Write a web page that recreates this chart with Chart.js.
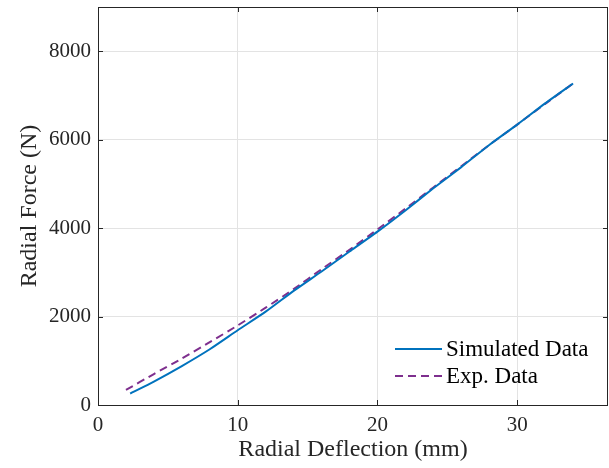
<!DOCTYPE html>
<html>
<head>
<meta charset="utf-8">
<script src="https://cdn.jsdelivr.net/npm/chart.js@4.4.1/dist/chart.umd.min.js"></script>
<style>
  html, body { margin: 0; padding: 0; background: #fff; }
  #wrap { width: 609px; height: 468px; }
</style>
</head>
<body>
<div id="wrap"><canvas id="forceChart" width="609" height="468"></canvas></div>
<script>
// deflection (mm) / force (N)
const simX = [2.3, 4, 6, 8, 10, 12, 14, 16, 18, 20, 22, 24, 26, 28, 30, 32, 34];
const simY = [260, 530, 880, 1260, 1690, 2110, 2580, 3020, 3470, 3920, 4400, 4900, 5380, 5880, 6340, 6820, 7270];
const expX = [2, 4, 6, 8, 10, 12, 14, 16, 18, 20, 22, 24, 26, 28, 30, 32, 34];
const expY = [340, 700, 1050, 1420, 1800, 2200, 2620, 3070, 3510, 3970, 4440, 4920, 5400, 5880, 6340, 6810, 7270];
const xTicks = [0, 10, 20, 30];
const yTicks = [0, 2000, 4000, 6000, 8000];

const serif = "'Liberation Serif', 'DejaVu Serif', serif";

// inward tick marks + box, matlab style
const boxTicks = {
    id: 'boxTicks',
    afterDraw(chart) {
        const { ctx, chartArea: a, scales } = chart;
        ctx.save();
        ctx.strokeStyle = '#262626';
        ctx.lineWidth = 1;
        xTicks.forEach(v => {
            const px = Math.round(scales.x.getPixelForValue(v)) + 0.5;
            ctx.beginPath();
            ctx.moveTo(px, a.bottom); ctx.lineTo(px, a.bottom - 5);
            ctx.moveTo(px, a.top); ctx.lineTo(px, a.top + 5);
            ctx.stroke();
        });
        yTicks.forEach(v => {
            const py = Math.round(scales.y.getPixelForValue(v)) + 0.5;
            ctx.beginPath();
            ctx.moveTo(a.left, py); ctx.lineTo(a.left + 5, py);
            ctx.moveTo(a.right, py); ctx.lineTo(a.right - 5, py);
            ctx.stroke();
        });
        ctx.strokeRect(a.left + 0.5, a.top + 0.5, a.right - a.left - 1, a.bottom - a.top);
        ctx.restore();
    }
};

// legend inside lower right, no frame
const innerLegend = {
    id: 'innerLegend',
    afterDraw(chart) {
        const { ctx } = chart;
        ctx.save();
        ctx.font = '23px ' + serif;
        ctx.textBaseline = 'middle';
        chart.data.datasets.forEach((ds, i) => {
            const y = 349 + i * 27;
            ctx.strokeStyle = ds.borderColor;
            ctx.lineWidth = 2;
            ctx.setLineDash(ds.borderDash || []);
            ctx.beginPath();
            ctx.moveTo(395, y); ctx.lineTo(442, y);
            ctx.stroke();
            ctx.setLineDash([]);
            ctx.fillStyle = '#000';
            ctx.fillText(ds.label, 446, y + 1);
        });
        ctx.restore();
    }
};

new Chart(document.getElementById('forceChart'), {
    type: 'line',
    data: {
        datasets: [
            {
                label: 'Simulated Data',
                data: simX.map((x, i) => ({ x: x, y: simY[i] })),
                borderColor: '#0072BD',
                borderWidth: 2,
                pointRadius: 0,
                tension: 0.2
            },
            {
                label: 'Exp. Data',
                data: expX.map((x, i) => ({ x: x, y: expY[i] })),
                borderColor: '#7E2F8E',
                borderWidth: 2,
                borderDash: [8, 5],
                pointRadius: 0,
                tension: 0.2
            }
        ]
    },
    options: {
        responsive: false,
        animation: false,
        layout: { padding: { top: 7, right: 1, left: 0, bottom: 0 } },
        plugins: { legend: { display: false }, tooltip: { enabled: false } },
        scales: {
            x: {
                type: 'linear',
                min: 0, max: 36.5,
                afterBuildTicks: s => { s.ticks = xTicks.map(v => ({ value: v })); },
                afterFit: s => { s.height = 63; s.paddingRight = 0; },
                grid: { color: '#e3e3e3', drawTicks: false },
                border: { display: false },
                ticks: { color: '#262626', font: { family: serif, size: 21 }, padding: 8,
                         callback: v => String(v) },
                title: { display: true, text: 'Radial Deflection (mm)', color: '#262626',
                         font: { family: serif, size: 24 }, padding: { top: 3 } }
            },
            y: {
                type: 'linear',
                min: 0, max: 9000,
                afterBuildTicks: s => { s.ticks = yTicks.map(v => ({ value: v })); },
                afterFit: s => { s.width = 98; s.paddingTop = 0; s.paddingBottom = 0; },
                grid: { color: '#e3e3e3', drawTicks: false },
                border: { display: false },
                ticks: { color: '#262626', font: { family: serif, size: 21 }, padding: 7,
                         callback: v => String(v) },
                title: { display: true, text: 'Radial Force (N)', color: '#262626',
                         font: { family: serif, size: 24 }, padding: { top: 15, bottom: 0 } }
            }
        }
    },
    plugins: [boxTicks, innerLegend]
});
</script>
</body>
</html>
